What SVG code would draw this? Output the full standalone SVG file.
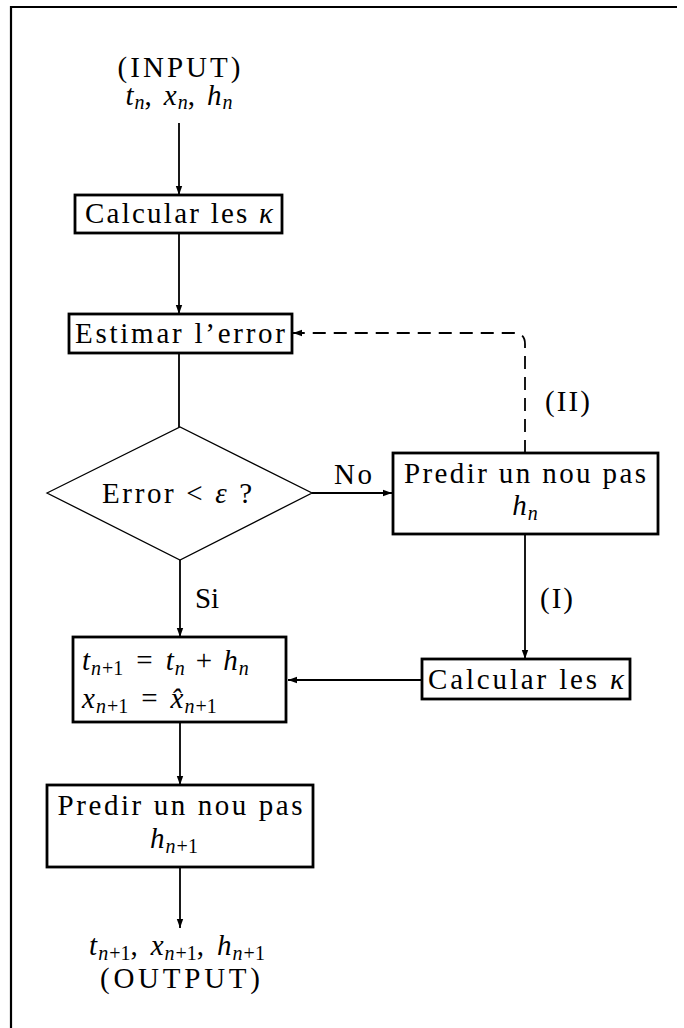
<svg xmlns="http://www.w3.org/2000/svg" width="684" height="1028" viewBox="0 0 684 1028">
<defs>
<marker id="ah" markerUnits="userSpaceOnUse" markerWidth="10" markerHeight="8" refX="9" refY="4" orient="auto">
<path d="M0,0.8 L9,4 L0,7.2 Z" fill="#000"/>
</marker>
<style>
text{font-family:"Liberation Serif","DejaVu Serif",serif;font-size:29px;fill:#000}
.c{text-anchor:middle}
.i{font-style:italic}
.s{font-size:20px}
.box{fill:#fff;stroke:#000;stroke-width:2.8}
.con{fill:none;stroke:#000;stroke-width:1.8}
</style>
</defs>
<rect width="684" height="1028" fill="#fff"/>
<path d="M11,1028 V7 H677" fill="none" stroke="#000" stroke-width="2.2"/>
<g id="connectors">
<line class="con" x1="179" y1="123" x2="179" y2="195" marker-end="url(#ah)"/>
<line class="con" x1="179" y1="233" x2="179" y2="314" marker-end="url(#ah)"/>
<line class="con" x1="179" y1="353" x2="179" y2="427"/>
<line class="con" x1="312" y1="493" x2="392" y2="493" stroke-width="2.6" marker-end="url(#ah)"/>
<line class="con" x1="180" y1="560" x2="180" y2="637" marker-end="url(#ah)"/>
<line class="con" x1="180" y1="722" x2="180" y2="785" marker-end="url(#ah)"/>
<line class="con" x1="180" y1="867" x2="180" y2="928" marker-end="url(#ah)"/>
<line class="con" x1="525" y1="534" x2="525" y2="659" stroke-width="2.6" marker-end="url(#ah)"/>
<line class="con" x1="422" y1="680" x2="288" y2="680" marker-end="url(#ah)"/>
<path class="con" d="M525,453 V344 Q525,333 514,333 H293" stroke-width="2.6" stroke-dasharray="13,8" marker-end="url(#ah)"/>
<text x="334" y="484" textLength="38" lengthAdjust="spacing">No</text>
<text x="195" y="608" textLength="24" lengthAdjust="spacing">Si</text>
<text x="545" y="411" textLength="45" lengthAdjust="spacing">(II)</text>
<text x="540" y="608" textLength="33" lengthAdjust="spacing">(I)</text>
</g>
<g id="input">
<text class="c" x="179" y="77" textLength="123" lengthAdjust="spacing">(INPUT)</text>
<text class="c" x="179" y="105"><tspan class="i">t</tspan><tspan class="i s" dx="1" dy="4">n</tspan><tspan dy="-4">,</tspan><tspan class="i" dx="12">x</tspan><tspan class="i s" dx="1" dy="4">n</tspan><tspan dy="-4">,</tspan><tspan class="i" dx="12">h</tspan><tspan class="i s" dx="1" dy="4">n</tspan></text>
</g>
<g id="calc1">
<rect class="box" x="75" y="195" width="207" height="38"/>
<text class="c" x="179" y="223" textLength="188" lengthAdjust="spacing">Calcular les <tspan class="i">κ</tspan></text>
</g>
<g id="estimar">
<rect class="box" x="69" y="314" width="223" height="39"/>
<text class="c" x="180" y="343" textLength="210" lengthAdjust="spacing">Estimar l’error</text>
</g>
<g id="decision">
<polygon points="47,493 180,427 312,493 180,560" fill="#fff" stroke="#000" stroke-width="1.3"/>
<text class="c" x="177" y="503" textLength="150" lengthAdjust="spacing">Error &lt; <tspan class="i">ε</tspan> ?</text>
</g>
<g id="predir1">
<rect class="box" x="393" y="453" width="265" height="81"/>
<text class="c" x="525" y="483" textLength="242" lengthAdjust="spacing">Predir un nou pas</text>
<text class="c" x="525" y="515"><tspan class="i">h</tspan><tspan class="i s" dx="1" dy="5">n</tspan></text>
</g>
<g id="calc2">
<rect class="box" x="422" y="659" width="208" height="40" stroke-width="2.2"/>
<text class="c" x="526" y="689" textLength="196" lengthAdjust="spacing">Calcular les <tspan class="i">κ</tspan></text>
</g>
<g id="update">
<rect class="box" x="73" y="637" width="213" height="85"/>
<text x="82" y="670"><tspan class="i">t</tspan><tspan class="s" dx="1" dy="5"><tspan class="i">n</tspan><tspan dx="1">+</tspan>1</tspan><tspan dx="13" dy="-5">=</tspan><tspan class="i" dx="13">t</tspan><tspan class="i s" dx="1" dy="5">n</tspan><tspan dx="11" dy="-5">+</tspan><tspan class="i" dx="11">h</tspan><tspan class="i s" dx="1" dy="5">n</tspan></text>
<text x="82" y="708"><tspan class="i">x</tspan><tspan class="s" dx="1" dy="5"><tspan class="i">n</tspan><tspan dx="1">+</tspan>1</tspan><tspan dx="13" dy="-5">=</tspan><tspan class="i" dx="13">x̂</tspan><tspan class="s" dx="1" dy="5"><tspan class="i">n</tspan><tspan dx="1">+</tspan>1</tspan></text>
</g>
<g id="predir2">
<rect class="box" x="47" y="785" width="266" height="82"/>
<text class="c" x="180" y="815" textLength="245" lengthAdjust="spacing">Predir un nou pas</text>
<text class="c" x="174" y="848"><tspan class="i">h</tspan><tspan class="s" dx="1" dy="5"><tspan class="i">n</tspan><tspan dx="1">+</tspan>1</tspan></text>
</g>
<g id="output">
<text class="c" x="177" y="955"><tspan class="i">t</tspan><tspan class="s" dx="1" dy="5"><tspan class="i">n</tspan><tspan dx="1">+</tspan>1</tspan><tspan dy="-5">,</tspan><tspan class="i" dx="13">x</tspan><tspan class="s" dx="1" dy="5"><tspan class="i">n</tspan><tspan dx="1">+</tspan>1</tspan><tspan dy="-5">,</tspan><tspan class="i" dx="13">h</tspan><tspan class="s" dx="1" dy="5"><tspan class="i">n</tspan><tspan dx="1">+</tspan>1</tspan></text>
<text class="c" x="180" y="988" textLength="160" lengthAdjust="spacing">(OUTPUT)</text>
</g>
</svg>
